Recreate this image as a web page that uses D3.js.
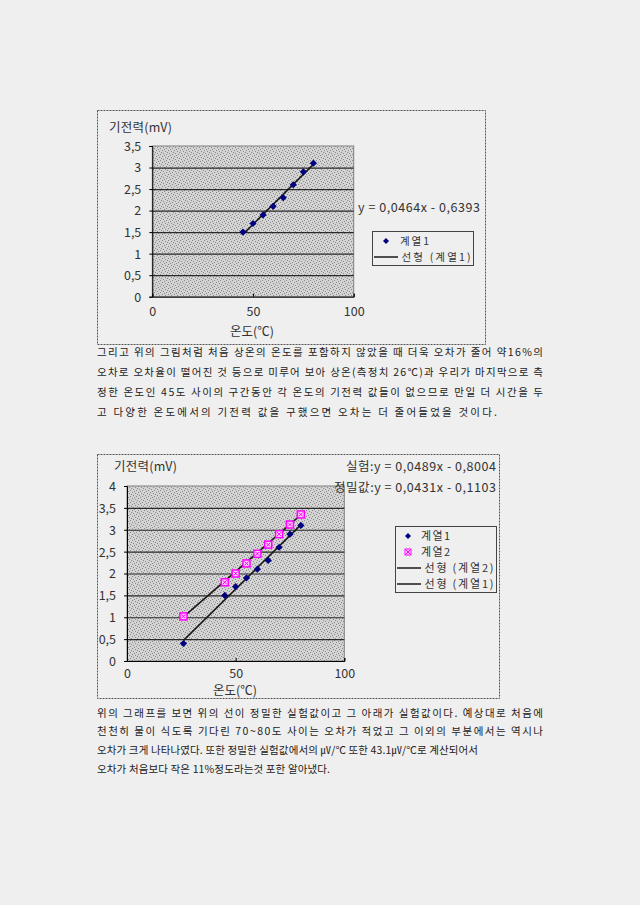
<!DOCTYPE html>
<html><head><meta charset="utf-8">
<script src="https://cdn.jsdelivr.net/npm/d3@7/dist/d3.min.js"></script>
<style>
html,body{margin:0;padding:0;background:#efefef;}
svg{display:block;}
text{font-family:"Noto Sans CJK KR","Noto Sans",sans-serif;}
</style></head>
<body>
<svg id="c" width="640" height="905"></svg>
<script>
// ---------- data ----------
const temps1 = [45, 50, 55, 60, 65, 70, 75, 80];
const emf1 = [1.5, 1.7, 1.9, 2.1, 2.3, 2.6, 2.9, 3.1];
const fit1 = {slope: 0.0464, intercept: -0.6393};

const temps2 = [26, 45, 50, 55, 60, 65, 70, 75, 80];
const emf2a = [0.4, 1.5, 1.7, 1.9, 2.1, 2.3, 2.6, 2.9, 3.1];      // 계열1
const emf2b = [1.02, 1.8, 2.0, 2.23, 2.45, 2.66, 2.9, 3.12, 3.35]; // 계열2
const fit2a = {slope: 0.0489, intercept: -0.8004};
const fit2b = {slope: 0.0431, intercept: -0.1103};

const xTickValues = [0, 50, 100];
const xTickLabels = ["0", "50", "100"];
const yTickValues1 = [0, 0.5, 1, 1.5, 2, 2.5, 3, 3.5];
const yTickLabels1 = ["0", "0,5", "1", "1,5", "2", "2,5", "3", "3,5"];
const yTickValues2 = [0, 0.5, 1, 1.5, 2, 2.5, 3, 3.5, 4];
const yTickLabels2 = ["0", "0,5", "1", "1,5", "2", "2,5", "3", "3,5", "4"];

const para1 = [
 "그리고 위의 그림처럼 처음 상온의 온도를 포함하지 않았을 때 더욱 오차가 줄어 약16%의",
 "오차로 오차율이 떨어진 것 등으로 미루어 보아 상온(측정치 26℃)과 우리가 마지막으로 측",
 "정한 온도인 45도 사이의 구간동안 각 온도의 기전력 값들이 없으므로 만일 더 시간을 두",
 "고 다양한 온도에서의 기전력 값을 구했으면 오차는 더 줄어들었을 것이다."
];
const para2 = [
 "위의 그래프를 보면 위의 선이 정밀한 실험값이고 그 아래가 실험값이다. 예상대로 처음에",
 "천천히 물이 식도록 기다린 70~80도 사이는 오차가 적었고 그 이외의 부분에서는 역시나",
 "오차가 크게 나타나였다. 또한 정밀한 실험값에서의 ㎶/℃ 또한 43.1㎶/℃로 계산되어서",
 "오차가 처음보다 작은 11%정도라는것 포한 알아냈다."
];

// ---------- drawing ----------
const svg = d3.select("#c");
const defs = svg.append("defs");
const pat = defs.append("pattern").attr("id","stip").attr("patternUnits","userSpaceOnUse")
  .attr("width",6).attr("height",6);
pat.append("rect").attr("width",6).attr("height",6).attr("fill","#d3d3d3");
[[0,0],[3,1],[1,3],[4,4],[5,2],[2,5]].forEach(([a,b])=>pat.append("rect").attr("x",a).attr("y",b).attr("width",1).attr("height",1).attr("fill","#8a8a8a"));

const DIAMOND = "M0,-3.6L3.6,0L0,3.6L-3.6,0Z";
function line(xs, ys){ return xs.map((x,i)=>[x,ys[i]]); }
function fmt(v){ return String(v).replace(".",","); }

function chart(cfg){
  const g = svg.append("g");
  g.append("rect").attr("x",cfg.box[0]+0.5).attr("y",cfg.box[1]+0.5)
    .attr("width",cfg.box[2]).attr("height",cfg.box[3])
    .attr("fill","#efefef").attr("stroke","#555").attr("stroke-dasharray","2,1");
  const x = d3.scaleLinear().domain([0,100]).range([cfg.plot[0], cfg.plot[1]]);
  const y = d3.scaleLinear().domain([0,cfg.ymax]).range([cfg.plot[3], cfg.plot[2]]);
  const w = cfg.plot[1]-cfg.plot[0], h = cfg.plot[3]-cfg.plot[2];
  g.append("rect").attr("x",cfg.plot[0]).attr("y",cfg.plot[2]).attr("width",w).attr("height",h)
    .attr("fill","url(#stip)").attr("stroke","#808080");
  const grid = g.append("g").attr("transform",`translate(${cfg.plot[0]},0)`)
    .call(d3.axisLeft(y).tickValues(cfg.yv.filter(v=>v>0 && v<cfg.ymax)).tickSize(-w).tickFormat(""));
  grid.select(".domain").remove();
  grid.selectAll("line").attr("stroke","#2a2a2a").attr("stroke-width",1.2);
  const ya = g.append("g").attr("transform",`translate(${cfg.plot[0]},0)`)
    .call(d3.axisLeft(y).tickValues(cfg.yv).tickFormat((d,i)=>cfg.yl[i]).tickSize(3).tickPadding(8));
  ya.select(".domain").attr("stroke","#000");
  ya.selectAll("text").attr("font-size",12.5).attr("fill","#333").attr("dy","0.35em").attr("y",0);
  const xa = g.append("g").attr("transform",`translate(0,${cfg.plot[3]})`)
    .call(d3.axisBottom(x).tickValues(xTickValues).tickFormat((d,i)=>xTickLabels[i]).tickSize(-3).tickPadding(cfg.xpad));
  xa.select(".domain").attr("stroke","#000");
  xa.selectAll("text").attr("font-size",12.5).attr("fill","#333");
  g.append("text").attr("x",cfg.ytitle[0]).attr("y",cfg.ytitle[1]).attr("dy","0.35em")
    .attr("font-size",12.5).attr("fill","#333").attr("textLength",63).attr("lengthAdjust","spacing").text("기전력(mV)");
  g.append("text").attr("x",cfg.xtitle[0]).attr("y",cfg.xtitle[1]).attr("dy","0.35em")
    .attr("text-anchor","middle").attr("font-size",12.5).attr("fill","#333").text("온도(℃)");
  return {g,x,y};
}

function diamond(g, pts, x, y){
  g.selectAll(null).data(pts).enter().append("path")
    .attr("d", DIAMOND)
    .attr("transform", d=>`translate(${x(d[0])},${y(d[1])})`)
    .attr("fill","#000080");
}
function pinkMark(g, pts, x, y){
  const m = g.selectAll(null).data(pts).enter().append("g")
    .attr("transform", d=>`translate(${x(d[0])},${y(d[1])})`);
  m.append("rect").attr("x",-3.5).attr("y",-3.5).attr("width",7).attr("height",7)
    .attr("fill","#ffccff").attr("stroke","#ff00ff").attr("stroke-width",1.5);
  m.append("path").attr("d","M-2,-2L2,2M2,-2L-2,2").attr("stroke","#ff00ff").attr("stroke-width",1);
}
function trend(g, xs, f, x, y){
  const x0 = d3.min(xs), x1 = d3.max(xs);
  g.append("line").attr("x1",x(x0)).attr("y1",y(f.slope*x0+f.intercept))
    .attr("x2",x(x1)).attr("y2",y(f.slope*x1+f.intercept))
    .attr("stroke","#1a1a1a").attr("stroke-width",1.6);
}
function label(g, x, y, t, len, anchor, size){
  const e = g.append("text").attr("x",x).attr("y",y).attr("dy","0.35em").attr("font-size",size||12.5).attr("fill","#333").text(t);
  if (len) e.attr("textLength",len).attr("lengthAdjust","spacing");
  if (anchor) e.attr("text-anchor",anchor);
  return e;
}

// chart 1
const c1 = chart({box:[97,110,388,234], plot:[152.3,353.7,146,296.7], ymax:3.5, xpad:10,
  yv:yTickValues1, yl:yTickLabels1, ytitle:[109,128], xtitle:[252,332]});
trend(c1.g, temps1, fit1, c1.x, c1.y);
diamond(c1.g, line(temps1, emf1), c1.x, c1.y);
label(c1.g, 358, 208, `y = ${fmt(fit1.slope)}x - ${fmt(-fit1.intercept)}`, 122);
{
  const lg = c1.g.append("g");
  lg.append("rect").attr("x",372.5).attr("y",231.5).attr("width",101).attr("height",34).attr("fill","#efefef").attr("stroke","#444");
  lg.append("path").attr("d", "M0,-3L3,0L0,3L-3,0Z").attr("transform","translate(386,241)").attr("fill","#000080");
  label(lg, 400, 241, "계열1", 29, null, 10.5);
  lg.append("line").attr("x1",374).attr("x2",398).attr("y1",257).attr("y2",257).attr("stroke","#1a1a1a").attr("stroke-width",1.5);
  label(lg, 401.5, 257, "선형 (계열1)", 69, null, 10.5);
}

function para(lines, y0, dy, widths){
  lines.forEach((t,i)=>{
    svg.append("text").attr("x",97).attr("y",y0+i*dy).attr("dy","0.35em")
      .attr("font-size",10.5).attr("fill","#222")
      .attr("textLength",widths[i]).attr("lengthAdjust","spacing").text(t);
  });
}
para(para1, 352, 20, [446, 446, 446, 400]);

// chart 2
const c2 = chart({box:[97,454,402,244], plot:[127,344.3,486,661], ymax:4, xpad:8,
  yv:yTickValues2, yl:yTickLabels2, ytitle:[114,467], xtitle:[235,691]});
trend(c2.g, temps2, fit2b, c2.x, c2.y);
trend(c2.g, temps2, fit2a, c2.x, c2.y);
diamond(c2.g, line(temps2, emf2a), c2.x, c2.y);
pinkMark(c2.g, line(temps2, emf2b), c2.x, c2.y);
label(c2.g, 496, 467, `실험:y = ${fmt(fit2a.slope)}x - ${fmt(-fit2a.intercept)}`, 150, "end");
label(c2.g, 496, 488, `정밀값:y = ${fmt(fit2b.slope)}x - ${fmt(-fit2b.intercept)}`, 162, "end");
{
  const lg = c2.g.append("g");
  lg.append("rect").attr("x",395.5).attr("y",526.5).attr("width",101).attr("height",66).attr("fill","#efefef").attr("stroke","#444");
  lg.append("path").attr("d", "M0,-3L3,0L0,3L-3,0Z").attr("transform","translate(408,536)").attr("fill","#000080");
  label(lg, 421, 536, "계열1", 29, null, 11);
  const pm = lg.append("g").attr("transform","translate(408,552)");
  pm.append("rect").attr("x",-3).attr("y",-3).attr("width",6).attr("height",6).attr("fill","#ffccff").attr("stroke","#ff00ff");
  pm.append("path").attr("d","M-2,-2L2,2M2,-2L-2,2").attr("stroke","#ff00ff").attr("stroke-width",1);
  label(lg, 421, 552, "계열2", 29, null, 11);
  [["선형 (계열2)",568],["선형 (계열1)",584]].forEach(([t,yy])=>{
    lg.append("line").attr("x1",397).attr("x2",421).attr("y1",yy).attr("y2",yy).attr("stroke","#1a1a1a").attr("stroke-width",1.5);
    label(lg, 424.5, yy, t, 69, null, 11);
  });
}

para(para2, 713, 18.7, [446, 446, 381, 233]);
</script>
</body></html>
